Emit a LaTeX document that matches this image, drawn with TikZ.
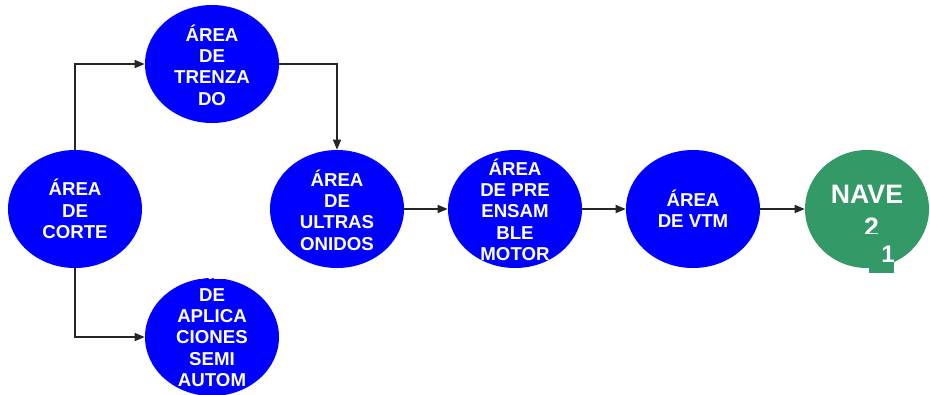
\documentclass[tikz,border=0pt]{standalone}
\usepackage{fontspec}
\setmainfont{Liberation Sans}
\usetikzlibrary{arrows.meta,shapes.geometric}
\definecolor{areablue}{RGB}{0,0,255}
\definecolor{navegreen}{RGB}{51,153,102}
\begin{document}
\begin{tikzpicture}[x=0.75pt,y=-0.75pt,
  area/.style={ellipse,fill=areablue,minimum width=100.5pt,minimum height=88.5pt,inner sep=0pt},
  navearea/.style={ellipse,fill=navegreen,minimum width=93pt,minimum height=88.5pt,inner sep=0pt},
  lbl/.style={text=white,font=\bfseries\fontsize{14}{16}\selectfont,align=center,inner sep=0pt},
  bigtxt/.style={text=white,font=\bfseries\fontsize{20}{22}\selectfont,inner sep=0pt,anchor=base},
  midtxt/.style={text=white,font=\bfseries\fontsize{18}{20}\selectfont,inner sep=0pt,anchor=base},
  flow/.style={draw=black!85,line width=1pt,-{Triangle[length=7.5pt,width=6pt]}}]
\useasboundingbox (0,0) rectangle (930,394);

% process areas
\node[area] (corte) at (75,209) {};
\node[area] (trenzado) at (212,64) {};
\node[area] (aplic) at (212,337) {};
\node[area] (ultra) at (337,209) {};
\node[area] (preens) at (515,209) {};
\node[area] (vtm) at (693,209) {};
\node[navearea] (nave) at (867,209) {};

% labels
\node[lbl] (tcorte) at (75,209) {ÁREA\\DE\\CORTE};
\node[lbl] (ttrenz) at (212,65) {ÁREA\\DE\\TRENZA\\DO};
\node[lbl] (taplic) at (212,325) {ÁREA\\DE\\APLICA\\CIONES\\SEMI\\AUTOM};
\node[lbl] (tultra) at (337,210) {ÁREA\\DE\\ULTRAS\\ONIDOS};
\node[lbl] (tpre) at (515,209.5) {ÁREA\\DE PRE\\ENSAM\\BLE\\MOTOR};
\node[lbl] (tvtm) at (693,209) {ÁREA\\DE VTM};

% ship label
\fill[navegreen] (869,240) rectangle (894,273);
\node[bigtxt] (tnave) at (867,203) {NAVE};
\begin{scope}
  \clip (850,205) rectangle (890,233);
  \node[bigtxt] (tnum) at (871.5,236.5) {2};
\end{scope}
\node[midtxt] (tone) at (888,262) {1};

% flow connectors
\draw[flow] (corte.north) |- (trenzado.west);
\draw[flow] (corte.south) |- (aplic.west);
\draw[flow] (trenzado.east) -| (ultra.north);
\draw[flow] (ultra.east) -- (preens.west);
\draw[flow] (preens.east) -- (vtm.west);
\draw[flow] (vtm.east) -- (nave.west);
\end{tikzpicture}
\end{document}
